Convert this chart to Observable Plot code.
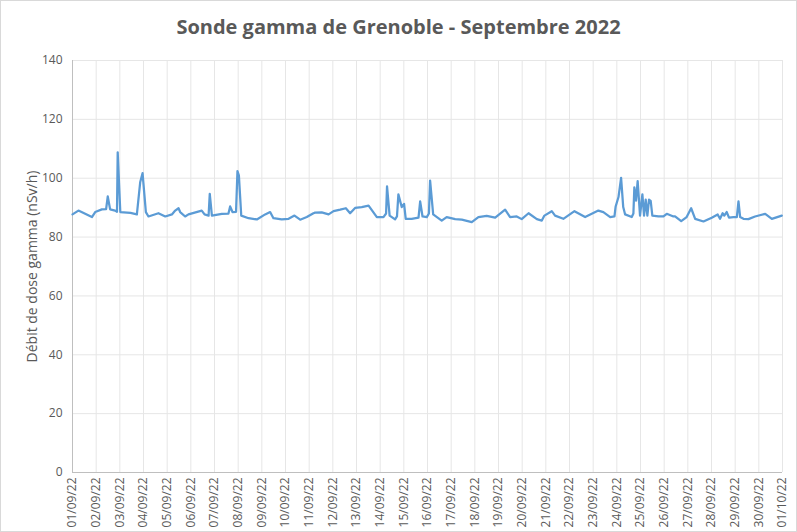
<!DOCTYPE html>
<html>
<head>
<meta charset="utf-8">
<script src="https://cdn.jsdelivr.net/npm/d3@7"></script>
<script src="https://cdn.jsdelivr.net/npm/@observablehq/plot@0.6"></script>
<style>
  html, body { margin: 0; padding: 0; background: #fff; }
  #chart { width: 797px; height: 532px; box-sizing: border-box; border: 1px solid #d9d9d9; background: #fff; font-family: "Open Sans", sans-serif; }
  #title { height: 44px; line-height: 52px; text-align: center; font-size: 20px; font-weight: 700; color: #595959; }
</style>
</head>
<body>
<div id="chart">
  <div id="title">Sonde gamma de Grenoble - Septembre 2022</div>
  <div id="plot"></div>
</div>
<script>
const chartTitle = "Sonde gamma de Grenoble - Septembre 2022";
const yAxisTitle = "Débit de dose gamma (nSv/h)";

// time as day of September (decimal), dose rate in nSv/h
const dayOfMonth = [
  1.00, 1.25, 1.82, 1.96, 2.24, 2.42, 2.49, 2.59, 2.80, 2.88, 2.91, 3.02, 3.45, 3.72, 3.86, 3.96,
  4.10, 4.21, 4.63, 4.92, 5.20, 5.34, 5.48, 5.55, 5.76, 5.90, 6.46, 6.58, 6.75, 6.80, 6.89,
  7.31, 7.59, 7.66, 7.76, 7.91, 7.97, 8.03, 8.13, 8.44, 8.79, 9.14, 9.35, 9.49, 9.84,
  10.13, 10.38, 10.62, 10.90, 11.18, 11.25, 11.53, 11.82, 12.03, 12.31, 12.55, 12.73, 12.94,
  13.22, 13.51, 13.86, 14.14, 14.25, 14.29, 14.40, 14.63, 14.71, 14.77, 14.91, 15.01, 15.08,
  15.33, 15.62, 15.69, 15.79, 15.97, 16.06, 16.11, 16.24, 16.60, 16.81, 17.17, 17.45, 17.87,
  18.15, 18.50, 18.86, 19.28, 19.49, 19.77, 19.98, 20.27, 20.62, 20.83, 20.94, 21.25, 21.39,
  21.74, 22.21, 22.66, 23.22, 23.43, 23.72, 23.90, 23.95, 24.07, 24.18, 24.27, 24.35, 24.63,
  24.70, 24.74, 24.81, 24.88, 24.98, 25.08, 25.15, 25.22, 25.29, 25.36, 25.43, 25.50, 25.76,
  25.97, 26.11, 26.39, 26.46, 26.72, 26.95, 27.14, 27.31, 27.66, 28.01, 28.26, 28.36, 28.47,
  28.54, 28.64, 28.74, 28.93, 29.07, 29.14, 29.21, 29.35, 29.56, 29.84, 30.27, 30.55, 30.97
];
const doseRate = [
  87.7, 89.0, 86.8, 88.5, 89.4, 89.5, 93.8, 89.4, 89.0, 88.6, 108.8, 88.5, 88.2, 87.7, 98.6, 101.7,
  88.5, 87.0, 88.1, 87.0, 87.7, 89.0, 89.8, 88.5, 87.0, 87.7, 89.0, 87.7, 87.3, 94.7, 87.3,
  87.9, 88.0, 90.4, 88.5, 88.6, 102.4, 101.0, 87.3, 86.4, 86.0, 87.7, 88.5, 86.4, 86.0,
  86.2, 87.3, 85.9, 86.8, 88.1, 88.3, 88.4, 87.7, 88.8, 89.3, 89.8, 88.1, 89.9,
  90.2, 90.7, 86.8, 86.8, 88.0, 97.2, 87.3, 86.0, 87.0, 94.5, 90.2, 91.3, 86.2,
  86.2, 86.6, 92.1, 87.0, 86.8, 88.0, 99.2, 87.7, 85.6, 86.8, 86.1, 85.9, 85.1,
  86.8, 87.2, 86.6, 89.3, 86.8, 87.0, 86.1, 88.1, 86.1, 85.6, 87.3, 88.8, 87.3,
  86.2, 88.8, 86.8, 89.0, 88.5, 86.8, 87.0, 90.4, 93.6, 100.1, 90.2, 87.7, 86.8,
  88.0, 96.9, 92.4, 99.0, 87.3, 94.5, 87.3, 92.7, 87.3, 92.7, 92.3, 87.3, 87.0,
  87.0, 87.9, 87.0, 87.0, 85.4, 86.8, 89.8, 86.2, 85.3, 86.6, 87.7, 86.2, 88.1,
  87.3, 88.5, 86.6, 86.8, 86.8, 92.1, 86.8, 86.2, 86.1, 87.0, 87.9, 86.2, 87.3
];
const yTicks = [0, 20, 40, 60, 80, 100, 120, 140];
const xTickLabels = [
  "01/09/22","02/09/22","03/09/22","04/09/22","05/09/22","06/09/22","07/09/22","08/09/22",
  "09/09/22","10/09/22","11/09/22","12/09/22","13/09/22","14/09/22","15/09/22","16/09/22",
  "17/09/22","18/09/22","19/09/22","20/09/22","21/09/22","22/09/22","23/09/22","24/09/22",
  "25/09/22","26/09/22","27/09/22","28/09/22","29/09/22","30/09/22","01/10/22"
];

const DAY = 864e5;
const start = Date.UTC(2022, 8, 1);
const data = dayOfMonth.map((d, i) => ({ t: new Date(start + (d - 1) * DAY), v: doseRate[i] }));
const tickDates = xTickLabels.map(s => {
  const [dd, mm, yy] = s.split("/").map(Number);
  return new Date(Date.UTC(2000 + yy, mm - 1, dd));
});
const labelByTime = new Map(tickDates.map((d, i) => [+d, xTickLabels[i]]));

const font = '"Open Sans", sans-serif';
const plot = Plot.plot({
  width: 795,
  height: 486,
  marginTop: 15,
  marginBottom: 59,
  marginLeft: 71,
  marginRight: 14,
  style: { fontFamily: font, fontSize: "12px", color: "#595959", background: "#fff", overflow: "visible" },
  x: { type: "utc", domain: [tickDates[0], tickDates[tickDates.length - 1]] },
  y: { domain: [0, 140] },
  marks: [
    Plot.gridX(tickDates, { stroke: "#e6e6e6", strokeOpacity: 1 }),
    Plot.gridY(yTicks, { stroke: "#e6e6e6", strokeOpacity: 1 }),
    Plot.axisX(tickDates, {
      tickFormat: d => labelByTime.get(+d),
      tickRotate: -90, tickSize: 0, tickPadding: 5, label: null, fill: "#595959"
    }),
    Plot.axisY(yTicks, { tickSize: 0, tickPadding: 10, label: null, fill: "#595959" }),
    Plot.ruleY([0], { stroke: "#bfbfbf" }),
    Plot.ruleX([tickDates[0]], { stroke: "#bfbfbf" }),
    Plot.line(data, { x: "t", y: "v", stroke: "#5B9BD5", strokeWidth: 2.25, strokeLinejoin: "round" }),
    Plot.text([yAxisTitle], {
      frameAnchor: "left", rotate: -90, dx: -40, text: d => d,
      fontSize: 14, fill: "#595959", textAnchor: "middle"
    })
  ]
});
document.getElementById("plot").appendChild(plot);
document.getElementById("title").textContent = chartTitle;
</script>
</body>
</html>
